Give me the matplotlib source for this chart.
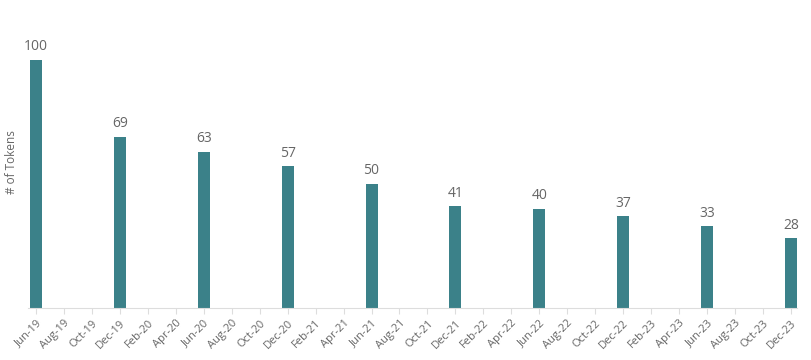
import matplotlib.pyplot as plt
import pandas as pd

# 月ごとのカテゴリ (Jun-19 ～ Dec-23)
months = [d.strftime("%b-%y") for d in pd.date_range("2019-06-01", "2023-12-01", freq="MS")]

# 棒のある月と値
bar_months = ["Jun-19", "Dec-19", "Jun-20", "Dec-20", "Jun-21",
              "Dec-21", "Jun-22", "Dec-22", "Jun-23", "Dec-23"]
bar_values = [100, 69, 63, 57, 50, 41, 40, 37, 33, 28]

bar_color = "#3b8189"
text_color = "#666666"
axis_color = "#dddddd"

plt.rcParams['font.family'] = ['Open Sans', 'DejaVu Sans']

fig = plt.figure(figsize=(8.11, 3.6), dpi=100)
ax = fig.add_axes([28 / 811, 52 / 360, 769 / 811, 298 / 360])

x = [months.index(m) for m in bar_months]
bars = ax.bar(x, bar_values, width=0.86, color=bar_color)

for xi, v in zip(x, bar_values):
    ax.text(xi, v + 2.2, str(v), ha="center", va="bottom", fontsize=10, color=text_color)

ax.set_xlim(-0.57, len(months) - 1 + 0.43)
ax.set_ylim(0, 120)

tick_pos = list(range(0, len(months), 2))
ax.set_xticks(tick_pos)
ax.set_xticklabels([months[i] for i in tick_pos], rotation=45, ha="right",
                   rotation_mode="anchor", fontsize=8, color=text_color)
ax.tick_params(axis="x", length=4, color=axis_color, pad=3)
ax.set_yticks([])

for s in ["top", "right", "left"]:
    ax.spines[s].set_visible(False)
ax.spines["bottom"].set_color(axis_color)

fig.text(12 / 811, 1 - 162 / 360, "# of Tokens", rotation=90, ha="center", va="center",
         fontsize=8.5, color=text_color)

fig.savefig("out.png", dpi=100)
